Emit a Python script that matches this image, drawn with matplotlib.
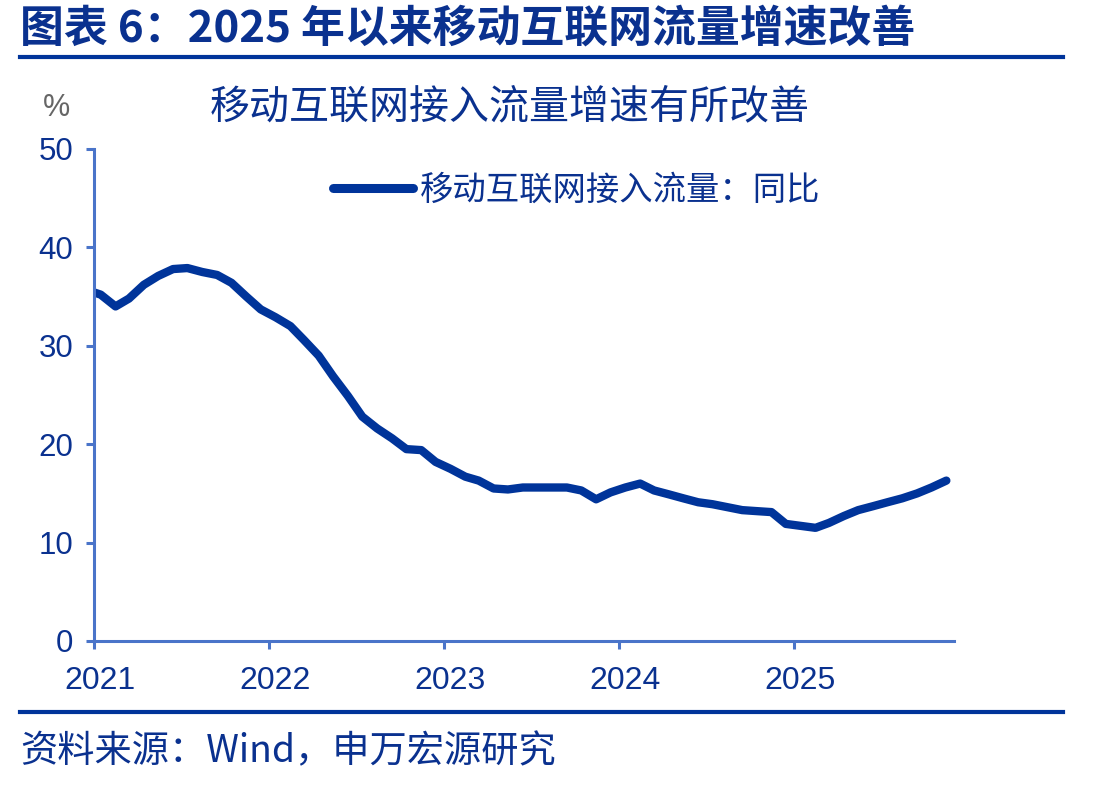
import matplotlib
matplotlib.use("Agg")
import matplotlib.pyplot as plt
import matplotlib.dates as mdates
from matplotlib.transforms import ScaledTranslation
import pandas as pd

plt.rcParams['font.family'] = ['Noto Sans CJK SC', 'DejaVu Sans']

# ---- data: mobile internet access traffic, YoY % (monthly, mid-month) ----
months = pd.date_range("2020-12-01", "2025-11-01", freq="MS") + pd.Timedelta(days=14)
values = [
    35.7,                                                                # 2020-12
    35.2, 34.0, 34.8, 36.2, 37.1, 37.8, 37.9, 37.5, 37.2, 36.4, 35.0, 33.7,  # 2021
    32.9, 32.0, 30.6, 29.0, 26.9, 24.9, 22.8, 21.6, 20.6, 19.5, 19.4, 18.2,  # 2022
    17.5, 16.7, 16.3, 15.5, 15.4, 15.6, 15.6, 15.6, 15.6, 15.3, 14.4, 15.1,  # 2023
    15.6, 16.0, 15.3, 14.9, 14.5, 14.1, 13.9, 13.6, 13.3, 13.2, 13.1, 11.9,  # 2024
    11.7, 11.5, 12.0, 12.7, 13.3, 13.7, 14.1, 14.5, 15.0, 15.6, 16.3,        # 2025
]
year_ticks = ["2021", "2022", "2023", "2024", "2025"]
y_ticks = [0, 10, 20, 30, 40, 50]

title = "图表 6：2025 年以来移动互联网流量增速改善"
subtitle = "移动互联网接入流量增速有所改善"
series_name = "移动互联网接入流量：同比"
source = "资料来源：Wind，申万宏源研究"

LINE = "#00349A"
AXIS = "#4A74C9"
TEXT = "#0A318F"

fig = plt.figure(figsize=(11, 7.87), dpi=100)
ax = fig.add_axes([94/1100, 1-641/787, (954-94)/1100, (641-149)/787])

ax.plot(months, values, color=LINE, lw=6, solid_capstyle="round",
        solid_joinstyle="round", label=series_name, clip_on=True)

ax.set_xlim(pd.Timestamp("2021-01-01"), pd.Timestamp("2025-12-01"))
ax.set_ylim(0, 50)
ax.set_yticks(y_ticks)
ax.set_xticks([pd.Timestamp(f"{y}-01-01") for y in year_ticks])
ax.set_xticklabels(year_ticks)

for s in ["top", "right"]:
    ax.spines[s].set_visible(False)
for s in ["left", "bottom"]:
    ax.spines[s].set_color(AXIS)
    ax.spines[s].set_linewidth(2.2)

ax.tick_params(axis="both", colors=AXIS, labelcolor=TEXT, width=2.2,
               length=6, direction="out")
ax.tick_params(axis="y", labelsize=22.5, pad=9)
ax.tick_params(axis="x", labelsize=23, pad=12)
for lab in ax.get_xticklabels() + ax.get_yticklabels():
    lab.set_fontfamily(["Liberation Sans", "DejaVu Sans"])
offset = ScaledTranslation(6/100, 0, fig.dpi_scale_trans)
for lab in ax.get_xticklabels():
    lab.set_transform(lab.get_transform() + offset)

leg = ax.legend(loc="center left", bbox_to_anchor=(333/1100, 1-190/787),
                bbox_transform=fig.transFigure, frameon=False,
                borderpad=0, borderaxespad=0,
                fontsize=24, handlelength=2.4, handletextpad=0.22,
                labelcolor=TEXT)
for h in leg.get_lines():
    h.set_linewidth(6.5)

# titles and decorations
fig.text(20/1100, 1-29/787, title, fontsize=31.6, fontweight="bold", color=TEXT,
         ha="left", va="center")
fig.add_artist(plt.Line2D([20/1100, 1063/1100], [1-57/787, 1-57/787],
                          color=LINE, lw=3, transform=fig.transFigure))
fig.text(510/1100, 1-107/787, subtitle, fontsize=28.8, color=TEXT,
         ha="center", va="center")
fig.text(57/1100, 1-108/787, "%", fontsize=22, color="#666666",
         ha="center", va="center", family=["Liberation Sans", "DejaVu Sans"])
fig.add_artist(plt.Line2D([20/1100, 1063/1100], [1-712/787, 1-712/787],
                          color=LINE, lw=3, transform=fig.transFigure))
fig.text(20/1100, 1-752/787, source, fontsize=26.8, color=TEXT,
         ha="left", va="center")

fig.savefig("out.png", dpi=100, facecolor="white")
